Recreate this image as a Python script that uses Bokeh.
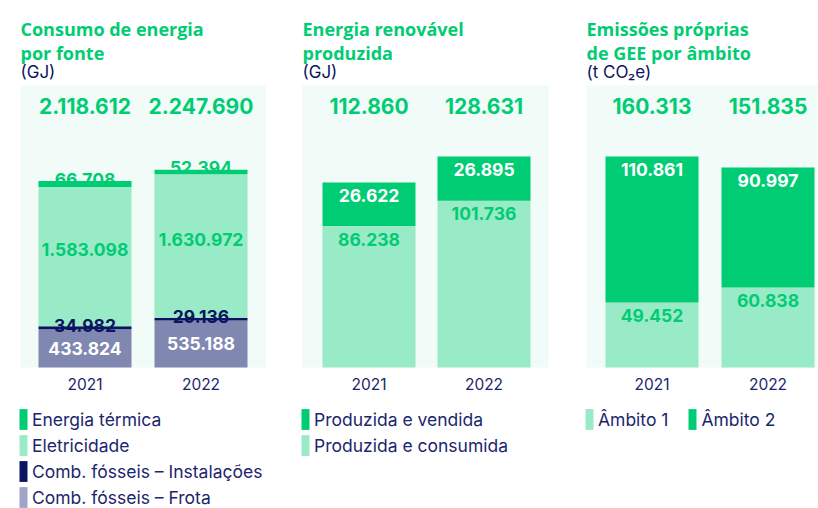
import numpy as np
from bokeh.plotting import figure
from bokeh.models import ColumnDataSource, Range1d, Label, Legend, LegendItem, BoxAnnotation
from bokeh.layouts import row
from bokeh.embed import file_html
from bokeh.resources import INLINE
from bokeh.core.properties import value, field

# ---------------- data ----------------
years = ["2021", "2022"]

# Consumo de energia por fonte (GJ)
fonte_frota = [433824, 535188]
fonte_instalacoes = [34982, 29136]
fonte_eletricidade = [1583098, 1630972]
fonte_termica = [66708, 52394]
fonte_total = [2118612, 2247690]

# Energia renovável produzida (GJ)
renov_consumida = [86238, 101736]
renov_vendida = [26622, 26895]
renov_total = [112860, 128631]

# Emissões próprias de GEE por âmbito (t CO2e)
gee_ambito1 = [49452, 60838]
gee_ambito2 = [110861, 90997]
gee_total = [160313, 151835]

# ---------------- style ----------------
GREEN = "#00CC74"
MINT = "#99EAC6"
NAVY = "#0B1460"
FROTA = "#8088B2"
FROTA_KEY = "#A0A4C7"
BG = "#F1FBF7"
TXT = "#1C266E"
TFONT = "Open Sans"
NFONT = "Inter"

H = 508          # figure height (px)
BASE = 367       # pixel row of the value 0
BG_TOP = 85      # pixel row of the top of the tinted panel


def fmt(v):
    return f"{v:,}".replace(",", ".")


class Panel:
    def __init__(self, width, bg_left, bg_right, c0, pitch, bar_px, px_per_unit):
        self.w, self.c0, self.pitch, self.k = width, c0, pitch, px_per_unit
        x0 = -c0 / pitch
        x1 = (width - c0) / pitch
        y0 = -(H - BASE) / px_per_unit
        y1 = BASE / px_per_unit
        p = figure(width=width, height=H, x_range=Range1d(x0, x1), y_range=Range1d(y0, y1),
                   output_backend="svg", toolbar_location=None,
                   x_axis_location=None, y_axis_location=None,
                   min_border=0, min_border_left=0, min_border_right=0,
                   min_border_top=0, min_border_bottom=0)
        p.background_fill_color = "white"
        p.border_fill_color = "white"
        p.outline_line_color = None
        p.xgrid.visible = False
        p.ygrid.visible = False
        self.bg_top_val = (BASE - BG_TOP) / px_per_unit
        p.add_layout(BoxAnnotation(left=(bg_left - c0) / pitch, right=(bg_right - c0) / pitch,
                                   bottom=0, top=self.bg_top_val, fill_color=BG, fill_alpha=1,
                                   line_alpha=0, level="underlay"))
        self.bar_w = bar_px / pitch
        self.bg_left = bg_left
        self.p = p

    def titles(self, lines):
        for text, color, bold, font, size, base_row in lines:
            self.p.add_layout(Label(x=self.bg_left, y=H - base_row, x_units="screen",
                                    y_units="screen", text=text, text_color=color,
                                    text_font=font,
                                    text_font_style="bold" if bold else "normal",
                                    text_font_size=size, text_baseline="alphabetic"))

    def years_axis(self, xs):
        src = ColumnDataSource(dict(x=xs, t=years))
        self.p.text(x="x", y=0, text="t", source=src, text_align="center",
                    text_baseline="middle", y_offset=16, text_color=TXT,
                    text_font=value(NFONT), text_font_size="15.5px")

    def totals(self, xs, totals):
        src = ColumnDataSource(dict(x=xs, t=[fmt(v) for v in totals]))
        self.p.text(x="x", y=self.bg_top_val, text="t", source=src, text_align="center",
                    text_baseline="middle", y_offset=20, text_color=GREEN,
                    text_font=value(NFONT), text_font_style="bold", text_font_size="21px")

    def segment_labels(self, xs, series, specs):
        X, Y, T, C, B, O = [], [], [], [], [], []
        bottoms = np.zeros(len(xs))
        for vals, (color, mode, off) in zip(series, specs):
            vals = np.array(vals, dtype=float)
            tops = bottoms + vals
            for i in range(len(xs)):
                X.append(xs[i])
                T.append(fmt(int(vals[i])))
                C.append(color)
                if mode == "center":
                    Y.append((bottoms[i] + tops[i]) / 2); B.append("middle")
                elif mode == "above":
                    Y.append(tops[i]); B.append("alphabetic")
                else:
                    Y.append(tops[i]); B.append("middle")
                O.append(off)
            bottoms = tops
        src = ColumnDataSource(dict(x=X, y=Y, t=T, c=C, b=B, o=O))
        self.p.text(x="x", y="y", text="t", source=src, text_align="center",
                    text_baseline=field("b"), y_offset=field("o"), text_color=field("c"),
                    text_font=value(NFONT), text_font_style="bold", text_font_size="17.5px")

    def legend(self, items, top_row, orientation="vertical", spacing=0):
        rows = len(items) if orientation == "vertical" else 1
        bottom_row = top_row + 26 * rows
        lg = Legend(items=[LegendItem(label=l, renderers=[r]) for l, r in items],
                    location=(self.bg_left - 2, H - bottom_row), orientation=orientation,
                    glyph_width=10, glyph_height=26, label_height=26, label_standoff=4,
                    spacing=spacing, padding=0, margin=0, border_line_color=None,
                    background_fill_alpha=0, label_text_font=NFONT,
                    label_text_font_size="17.5px", label_text_color=TXT)
        self.p.add_layout(lg)


xs = list(range(len(years)))

# ---------------- panel 1 ----------------
P1 = Panel(284, 20, 265, 84.5, 116, 93, 88 / 1e6)
s1 = ColumnDataSource(dict(x=xs, frota=fonte_frota, inst=fonte_instalacoes,
                           elet=fonte_eletricidade, term=fonte_termica))
r1 = P1.p.vbar_stack(["frota", "inst", "elet", "term"], x="x", width=P1.bar_w,
                     fill_color=[FROTA, NAVY, MINT, GREEN], line_color=None, source=s1)
# lighter key swatch for the fleet series (a renderer with a single empty (NaN) row,
# used only by the legend)
frota_key = P1.p.vbar(x=[float("nan")], top=[float("nan")], width=P1.bar_w,
                      fill_color=FROTA_KEY, line_color=None)
P1.titles([("Consumo de energia", GREEN, True, TFONT, "18px", 28),
           ("por fonte", GREEN, True, TFONT, "18px", 52),
           ("(GJ)", NAVY, False, NFONT, "17px", 71)])
P1.totals(xs, fonte_total)
P1.segment_labels(xs, [fonte_frota, fonte_instalacoes, fonte_eletricidade, fonte_termica],
                  [("white", "center", 0), (NAVY, "above", -1), (GREEN, "center", -7),
                   (GREEN, "above", -2)])
P1.years_axis(xs)
P1.legend([("Energia térmica", r1[3]), ("Eletricidade", r1[2]),
           ("Comb. fósseis – Instalações", r1[1]), ("Comb. fósseis – Frota", frota_key)], 406)

# ---------------- panel 2 ----------------
P2 = Panel(283, 18, 264, 84.5, 115, 93, 1.64 / 1000)
s2 = ColumnDataSource(dict(x=xs, cons=renov_consumida, vend=renov_vendida))
r2 = P2.p.vbar_stack(["cons", "vend"], x="x", width=P2.bar_w,
                     fill_color=[MINT, GREEN], line_color=None, source=s2)
P2.titles([("Energia renovável", GREEN, True, TFONT, "18px", 28),
           ("produzida", GREEN, True, TFONT, "18px", 52),
           ("(GJ)", NAVY, False, NFONT, "17px", 71)])
P2.totals(xs, renov_total)
P2.segment_labels(xs, [renov_consumida, renov_vendida],
                  [(GREEN, "top", 13), ("white", "top", 13)])
P2.years_axis(xs)
P2.legend([("Produzida e vendida", r2[1]), ("Produzida e consumida", r2[0])], 406)

# ---------------- panel 3 ----------------
P3 = Panel(251, 19, 251, 84.5, 116, 93, 1.3165 / 1000)
s3 = ColumnDataSource(dict(x=xs, a1=gee_ambito1, a2=gee_ambito2))
r3 = P3.p.vbar_stack(["a1", "a2"], x="x", width=P3.bar_w,
                     fill_color=[MINT, GREEN], line_color=None, source=s3)
P3.titles([("Emissões próprias", GREEN, True, TFONT, "18px", 28),
           ("de GEE por âmbito", GREEN, True, TFONT, "18px", 52),
           ("(t CO₂e)", NAVY, False, NFONT, "17px", 71)])
P3.totals(xs, gee_total)
P3.segment_labels(xs, [gee_ambito1, gee_ambito2],
                  [(GREEN, "top", 13), ("white", "top", 13)])
P3.years_axis(xs)
P3.legend([("Âmbito 1", r3[0]), ("Âmbito 2", r3[1])], 406,
           orientation="horizontal", spacing=19)

layout = row(P1.p, P2.p, P3.p)
open("out.html", "w").write(file_html(layout, INLINE))
